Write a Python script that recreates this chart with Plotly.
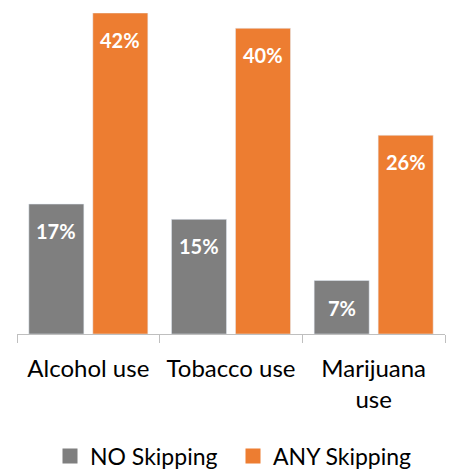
import plotly.graph_objects as go

categories = ["Alcohol use", "Tobacco use", "Marijuana<br>use"]
no_skipping = [17, 15, 7]
any_skipping = [42, 40, 26]
series_names = ["NO Skipping", "ANY Skipping"]
colors = ["#7F7F7F", "#ED7D31"]
legend_ids = ["legend", "legend2"]

FONT = "Lato"

fig = go.Figure()
for name, vals, col, lg in zip(series_names, [no_skipping, any_skipping], colors, legend_ids):
    fig.add_trace(go.Bar(x=categories, y=vals, name=name, marker_color=col,
                         showlegend=False))
    fig.add_trace(go.Scatter(x=[None], y=[None], mode="markers", name=name,
                             legend=lg,
                             marker=dict(symbol="square", size=15, color=col)))

for i, vals in enumerate([no_skipping, any_skipping]):
    shift = -32 if i == 0 else 32
    for c, v in zip(categories, vals):
        fig.add_annotation(x=c, y=v, text=f"<b>{v}%</b>", showarrow=False,
                           xshift=shift, yshift=-27, yanchor="middle",
                           font=dict(family=FONT, size=20, color="white"))

def legend_at(px):
    return dict(orientation="h", x=px / 451, xanchor="left", xref="container",
                y=1 - 456 / 470, yanchor="middle", yref="container",
                font=dict(family=FONT, size=23, color="#000000"),
                itemwidth=30, bgcolor="rgba(0,0,0,0)")

fig.update_layout(
    width=451, height=470,
    margin=dict(l=17, r=6, t=13, b=136, autoexpand=False),
    plot_bgcolor="white", paper_bgcolor="white",
    barmode="group", bargap=0.103, bargroupgap=0.14,
    font=dict(family=FONT, size=23, color="#000000"),
    legend=legend_at(50),
    legend2=legend_at(233),
    xaxis=dict(showline=True, linecolor="#BFBFBF", linewidth=1,
               ticks="outside", tickson="boundaries", ticklen=8,
               tickcolor="#BFBFBF", showgrid=False, automargin=False,
               ticklabelstandoff=13,
               tickfont=dict(family=FONT, size=24, color="#000000")),
    yaxis=dict(range=[0, 42], visible=False, showgrid=False, automargin=False),
)

fig.write_html("out.html", config={"displayModeBar": False},
               post_script="document.body.style.margin='0';document.body.style.padding='0';")
